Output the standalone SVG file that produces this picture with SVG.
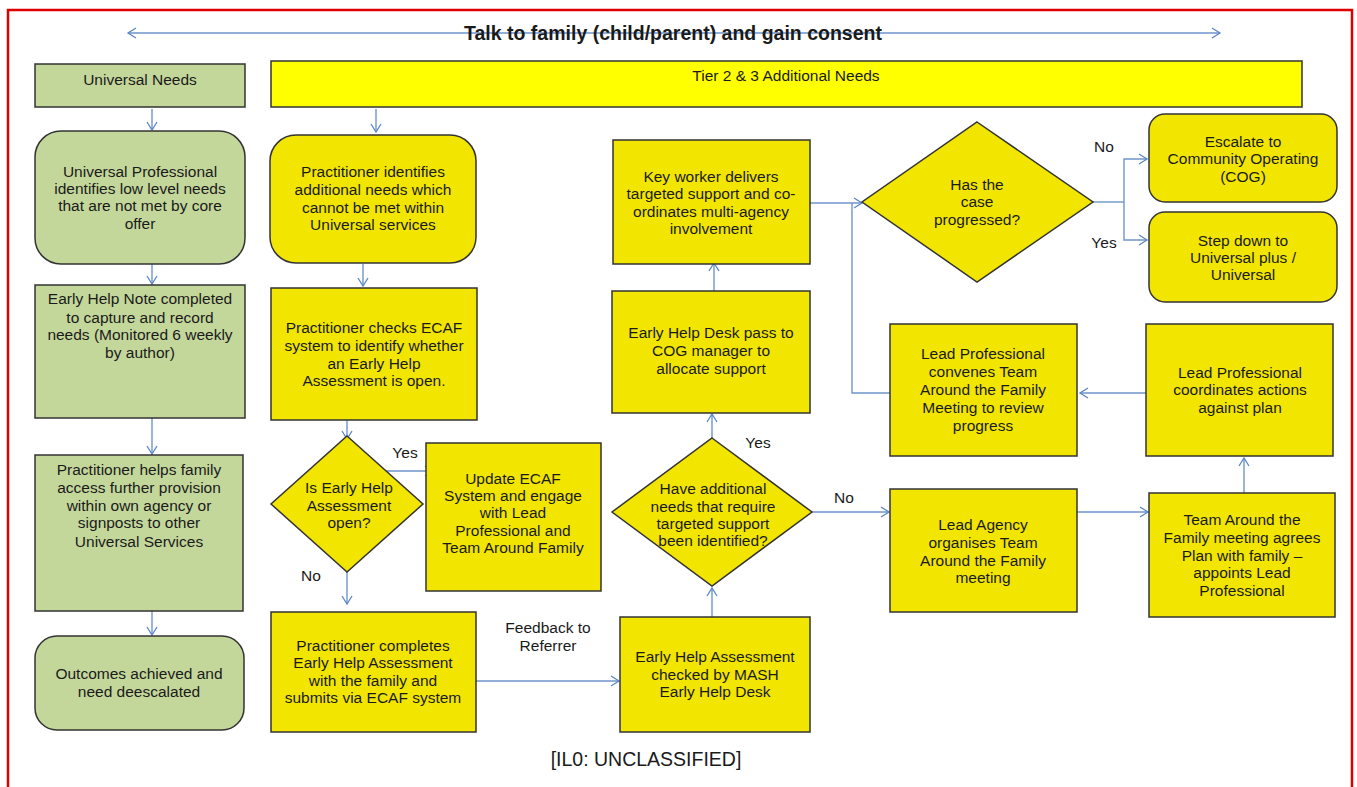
<svg xmlns="http://www.w3.org/2000/svg" width="1357" height="787" viewBox="0 0 1357 787">
<defs>
<marker id="ah" markerWidth="12" markerHeight="12" refX="9" refY="6" orient="auto" markerUnits="userSpaceOnUse">
<path d="M1,1 L9,6 L1,11" fill="none" stroke="#5b86c4" stroke-width="1.3"/>
</marker>
<marker id="ahs" markerWidth="12" markerHeight="12" refX="3" refY="6" orient="auto" markerUnits="userSpaceOnUse">
<path d="M11,1 L3,6 L11,11" fill="none" stroke="#5b86c4" stroke-width="1.3"/>
</marker>
</defs>
<style>
text{font-family:"Liberation Sans",Arial,sans-serif;font-size:15.5px;fill:#1a1a1a;text-anchor:middle}
.g{fill:#c4d79b;stroke:#333;stroke-width:1.5}
.y{fill:#f2e600;stroke:#333;stroke-width:1.5}
.c{fill:none;stroke:#6f95cc;stroke-width:1.4}
.a{marker-end:url(#ah)}
</style>
<rect x="0" y="0" width="1357" height="787" fill="#fff"/>
<rect x="8" y="10" width="1344" height="800" fill="none" stroke="#e00000" stroke-width="2.5"/>

<g id="connectors">
<line class="c" x1="128" y1="33" x2="1220" y2="33" marker-start="url(#ahs)" marker-end="url(#ah)"/>
<line class="c a" x1="152" y1="109" x2="152" y2="130"/>
<line class="c a" x1="376" y1="109" x2="376" y2="132"/>
<line class="c a" x1="152" y1="264" x2="152" y2="284"/>
<line class="c a" x1="152" y1="418" x2="152" y2="454"/>
<line class="c a" x1="152" y1="611" x2="152" y2="635"/>
<line class="c a" x1="363" y1="264" x2="363" y2="286"/>
<line class="c a" x1="347" y1="420" x2="347" y2="439"/>
<line class="c a" x1="386" y1="471" x2="433" y2="471"/>
<line class="c a" x1="347" y1="572" x2="347" y2="604"/>
<line class="c a" x1="476" y1="681" x2="619" y2="681"/>
<line class="c a" x1="712" y1="617" x2="712" y2="588"/>
<line class="c a" x1="712" y1="438" x2="712" y2="414"/>
<line class="c a" x1="714" y1="291" x2="714" y2="263"/>
<polyline class="c a" points="810,203 852,203 862,203"/>
<polyline class="c" points="890,393 852,393 852,203"/>
<polyline class="c" points="1093,202 1124,202"/>
<polyline class="c a" points="1124,202 1124,159 1147,159"/>
<polyline class="c a" points="1124,202 1124,240 1147,240"/>
<line class="c a" x1="1146" y1="393" x2="1080" y2="393"/>
<line class="c a" x1="1244" y1="493" x2="1244" y2="458"/>
<line class="c a" x1="812" y1="512" x2="889" y2="512"/>
<line class="c a" x1="1077" y1="512" x2="1148" y2="512"/>
</g>

<text x="673" y="40" style="font-weight:bold;font-size:19.5px">Talk to family (child/parent) and gain consent</text>

<g id="universal-needs">
<rect class="g" x="35" y="64" width="210" height="43"/>
<text x="140" y="85">Universal Needs</text>
</g>
<g id="tier23">
<rect x="271" y="61" width="1031" height="46" fill="#ffff00" stroke="#333" stroke-width="1.5"/>
<text x="786" y="81">Tier 2 &amp; 3 Additional Needs</text>
</g>

<g id="universal-professional">
<rect class="g" x="35" y="131" width="210" height="133" rx="26"/>
<text x="140" y="177">Universal Professional</text>
<text x="140" y="194">identifies low level needs</text>
<text x="140" y="211">that are not met by core</text>
<text x="140" y="229">offer</text>
</g>
<g id="early-help-note">
<rect class="g" x="35" y="285" width="210" height="133"/>
<text x="140" y="304">Early Help Note completed</text>
<text x="140" y="323">to capture and record</text>
<text x="140" y="340">needs (Monitored 6 weekly</text>
<text x="140" y="358">by author)</text>
</g>
<g id="practitioner-helps">
<rect class="g" x="35" y="455" width="208" height="156"/>
<text x="139" y="475">Practitioner helps family</text>
<text x="139" y="493">access further provision</text>
<text x="139" y="511">within own agency or</text>
<text x="139" y="528">signposts to other</text>
<text x="139" y="547">Universal Services</text>
</g>
<g id="outcomes">
<rect class="g" x="35" y="636" width="209" height="94" rx="22"/>
<text x="139" y="679">Outcomes achieved and</text>
<text x="139" y="697">need deescalated</text>
</g>

<g id="practitioner-identifies">
<rect class="y" x="270" y="135" width="206" height="128" rx="26"/>
<text x="373" y="177">Practitioner identifies</text>
<text x="373" y="195">additional needs which</text>
<text x="373" y="213">cannot be met within</text>
<text x="373" y="230">Universal services</text>
</g>
<g id="practitioner-checks">
<rect class="y" x="271" y="288" width="206" height="132"/>
<text x="374" y="333">Practitioner checks ECAF</text>
<text x="374" y="351">system to identify whether</text>
<text x="374" y="369">an Early Help</text>
<text x="374" y="386">Assessment is open.</text>
</g>
<g id="is-eha-open">
<polygon class="y" points="347,436 423,504 347,572 271,504"/>
<text x="349" y="493">Is Early Help</text>
<text x="349" y="511">Assessment</text>
<text x="349" y="528">open?</text>
</g>
<text x="405" y="458">Yes</text>
<text x="311" y="581">No</text>
<g id="update-ecaf">
<rect class="y" x="426" y="443" width="175" height="148"/>
<text x="513" y="484">Update ECAF</text>
<text x="513" y="501">System and engage</text>
<text x="513" y="518">with Lead</text>
<text x="513" y="536">Professional and</text>
<text x="513" y="553">Team Around Family</text>
</g>
<g id="practitioner-completes">
<rect class="y" x="271" y="612" width="205" height="120"/>
<text x="373" y="651">Practitioner completes</text>
<text x="373" y="668">Early Help Assessment</text>
<text x="373" y="686">with the family and</text>
<text x="373" y="703">submits via ECAF system</text>
</g>
<text x="548" y="633">Feedback to</text>
<text x="548" y="651">Referrer</text>

<g id="mash-check">
<rect class="y" x="620" y="617" width="190" height="115"/>
<text x="715" y="662">Early Help Assessment</text>
<text x="715" y="680">checked by MASH</text>
<text x="715" y="697">Early Help Desk</text>
</g>
<g id="have-additional">
<polygon class="y" points="712,438 812,512 712,586 612,512"/>
<text x="713" y="494">Have additional</text>
<text x="713" y="512">needs that require</text>
<text x="713" y="529">targeted support</text>
<text x="713" y="546">been identified?</text>
</g>
<text x="758" y="448">Yes</text>
<text x="844" y="503">No</text>
<g id="early-help-desk">
<rect class="y" x="612" y="291" width="198" height="122"/>
<text x="711" y="338">Early Help Desk pass to</text>
<text x="711" y="356">COG manager to</text>
<text x="711" y="374">allocate support</text>
</g>
<g id="key-worker">
<rect class="y" x="613" y="140" width="197" height="124"/>
<text x="711" y="182">Key worker delivers</text>
<text x="711" y="199">targeted support and co-</text>
<text x="711" y="217">ordinates multi-agency</text>
<text x="711" y="234">involvement</text>
</g>
<g id="has-progressed">
<polygon class="y" points="977,122 1093,202 977,282 862,202"/>
<text x="977" y="190">Has the</text>
<text x="977" y="207">case</text>
<text x="977" y="225">progressed?</text>
</g>
<text x="1104" y="152">No</text>
<text x="1104" y="248">Yes</text>
<g id="escalate">
<rect class="y" x="1149" y="114" width="188" height="88" rx="16"/>
<text x="1243" y="147">Escalate to</text>
<text x="1243" y="164">Community Operating</text>
<text x="1243" y="182">(COG)</text>
</g>
<g id="step-down">
<rect class="y" x="1149" y="212" width="188" height="90" rx="16"/>
<text x="1243" y="246">Step down to</text>
<text x="1243" y="263">Universal plus /</text>
<text x="1243" y="280">Universal</text>
</g>
<g id="lp-convenes">
<rect class="y" x="890" y="324" width="187" height="132"/>
<text x="983" y="359">Lead Professional</text>
<text x="983" y="377">convenes Team</text>
<text x="983" y="395">Around the Family</text>
<text x="983" y="413">Meeting to review</text>
<text x="983" y="431">progress</text>
</g>
<g id="lp-coordinates">
<rect class="y" x="1146" y="324" width="187" height="132"/>
<text x="1240" y="378">Lead Professional</text>
<text x="1240" y="395">coordinates actions</text>
<text x="1240" y="413">against plan</text>
</g>
<g id="lead-agency">
<rect class="y" x="890" y="489" width="187" height="123"/>
<text x="983" y="530">Lead Agency</text>
<text x="983" y="548">organises Team</text>
<text x="983" y="566">Around the Family</text>
<text x="983" y="583">meeting</text>
</g>
<g id="taf-agrees">
<rect class="y" x="1149" y="493" width="186" height="124"/>
<text x="1242" y="525">Team Around the</text>
<text x="1242" y="543">Family meeting agrees</text>
<text x="1242" y="561">Plan with family –</text>
<text x="1242" y="578">appoints Lead</text>
<text x="1242" y="596">Professional</text>
</g>

<text x="646" y="766" style="font-size:19.5px">[IL0: UNCLASSIFIED]</text>
</svg>
